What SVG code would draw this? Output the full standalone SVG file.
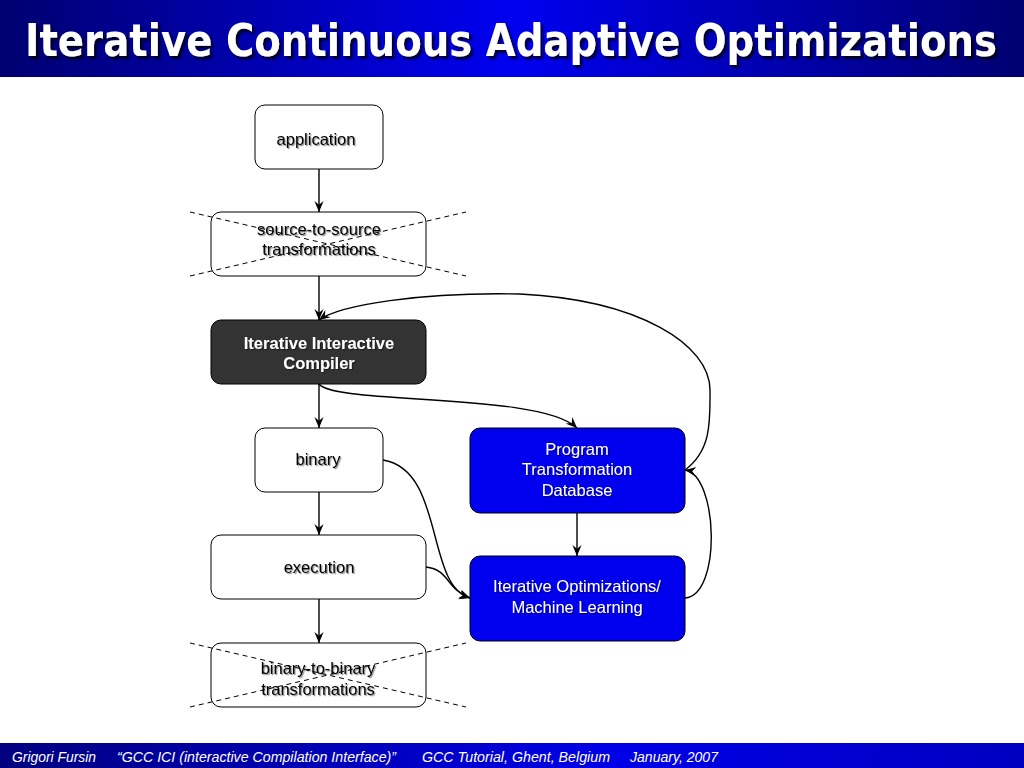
<svg xmlns="http://www.w3.org/2000/svg" width="1024" height="768" viewBox="0 0 1024 768">
<defs>
<linearGradient id="bar" x1="0" y1="0" x2="1" y2="0">
<stop offset="0" stop-color="#000070"/>
<stop offset="0.5" stop-color="#0000f0"/>
<stop offset="1" stop-color="#000070"/>
</linearGradient>
<linearGradient id="foot" x1="0" y1="0" x2="1" y2="0">
<stop offset="0" stop-color="#000080"/>
<stop offset="0.6" stop-color="#0000e8"/>
<stop offset="1" stop-color="#0000c0"/>
</linearGradient>
<filter id="sh" x="-10%" y="-20%" width="130%" height="150%">
<feDropShadow dx="1.2" dy="1.2" stdDeviation="0.6" flood-color="#000" flood-opacity="0.45"/>
</filter>
<filter id="tsh" x="-5%" y="-30%" width="110%" height="160%">
<feDropShadow dx="2.5" dy="2.5" stdDeviation="0.8" flood-color="#000" flood-opacity="0.8"/>
</filter>
<marker id="arr" viewBox="0 0 12 12" refX="12" refY="6" markerWidth="11" markerHeight="11" orient="auto" markerUnits="userSpaceOnUse">
<path d="M0,1 L12,6 L0,11 L4,6 Z" fill="#000"/>
</marker>
</defs>
<style>
.box{fill:#fff;stroke:#000;stroke-width:1}
.dark{fill:#333;stroke:#000;stroke-width:1}
.blue{fill:#0000ee;stroke:#000;stroke-width:1}
.t{font-family:"Liberation Sans",Arial,sans-serif;font-size:16.5px;text-anchor:middle;fill:#000;filter:url(#sh)}
.w{fill:#fff}
.b{font-weight:bold}
.x{stroke:#000;stroke-width:1;stroke-dasharray:5,4;fill:none}
.c{stroke:#000;stroke-width:1.4;fill:none;marker-end:url(#arr)}
.f{font-family:"Liberation Sans",Arial,sans-serif;font-size:14px;font-style:italic;fill:#fff}
</style>
<rect x="0" y="0" width="1024" height="768" fill="#fff"/>
<rect x="0" y="0" width="1024" height="77" fill="url(#bar)"/>
<g transform="translate(0,56) scale(1,1.15)">
<text x="511" y="0" font-family="'Comic Sans MS','DejaVu Sans',sans-serif" font-weight="bold" font-size="39" fill="#fff" text-anchor="middle" textLength="972" lengthAdjust="spacingAndGlyphs" filter="url(#tsh)">Iterative Continuous Adaptive Optimizations</text>
</g>

<g id="connectors">
<line class="c" x1="319" y1="169" x2="319" y2="212"/>
<line class="c" x1="319" y1="276" x2="319" y2="320"/>
<line class="c" x1="319" y1="384" x2="319" y2="428"/>
<line class="c" x1="319" y1="492" x2="319" y2="535"/>
<line class="c" x1="319" y1="599" x2="319" y2="643"/>
<line class="c" x1="577" y1="513" x2="577" y2="556"/>
<path class="c" d="M319,384 C335,405 540,392 577,428"/>
<path class="c" d="M383,460 C445,470 425,585 470,598"/>
<path class="c" d="M426,567 C450,570 445,588 470,598"/>
<path class="c" d="M685,598 C722,595 718,475 685,470"/>
<path class="c" d="M685,470 C712,450 710,420 710,390 C710,345 640,300 520,294 C420,292 340,305 319,320"/>
</g>

<g id="application">
<rect class="box" x="255" y="105" width="128" height="64" rx="10"/>
<text class="t" x="316" y="145">application</text>
</g>
<g id="source-to-source">
<rect class="box" x="211" y="212" width="215" height="64" rx="10"/>
<text class="t" x="319" y="235">source-to-source</text>
<text class="t" x="319" y="255">transformations</text>
<line class="x" x1="190" y1="212" x2="466" y2="276"/>
<line class="x" x1="190" y1="276" x2="466" y2="212"/>
</g>
<g id="compiler">
<rect class="dark" x="211" y="320" width="215" height="64" rx="10"/>
<text class="t w b" x="319" y="349">Iterative Interactive</text>
<text class="t w b" x="319" y="369">Compiler</text>
</g>
<g id="binary">
<rect class="box" x="255" y="428" width="128" height="64" rx="10"/>
<text class="t" x="318" y="465">binary</text>
</g>
<g id="execution">
<rect class="box" x="211" y="535" width="215" height="64" rx="10"/>
<text class="t" x="319" y="573">execution</text>
</g>
<g id="binary-to-binary">
<rect class="box" x="211" y="643" width="215" height="64" rx="10"/>
<text class="t" x="318" y="674">binary-to-binary</text>
<text class="t" x="318" y="695">transformations</text>
<line class="x" x1="190" y1="643" x2="466" y2="707"/>
<line class="x" x1="190" y1="707" x2="466" y2="643"/>
</g>
<g id="database">
<rect class="blue" x="470" y="428" width="215" height="85" rx="10"/>
<text class="t w" x="577" y="455">Program</text>
<text class="t w" x="577" y="475">Transformation</text>
<text class="t w" x="577" y="496">Database</text>
</g>
<g id="learning">
<rect class="blue" x="470" y="556" width="215" height="85" rx="10"/>
<text class="t w" x="577" y="592">Iterative Optimizations/</text>
<text class="t w" x="577" y="613">Machine Learning</text>
</g>

<rect x="0" y="743" width="1024" height="25" fill="url(#foot)"/>
<text class="f" x="12" y="762" textLength="84" lengthAdjust="spacingAndGlyphs">Grigori Fursin</text>
<text class="f" x="117" y="762" textLength="279" lengthAdjust="spacingAndGlyphs">“GCC ICI (interactive Compilation Interface)”</text>
<text class="f" x="422" y="762" textLength="188" lengthAdjust="spacingAndGlyphs">GCC Tutorial, Ghent, Belgium</text>
<text class="f" x="630" y="762" textLength="88" lengthAdjust="spacingAndGlyphs">January, 2007</text>
</svg>
